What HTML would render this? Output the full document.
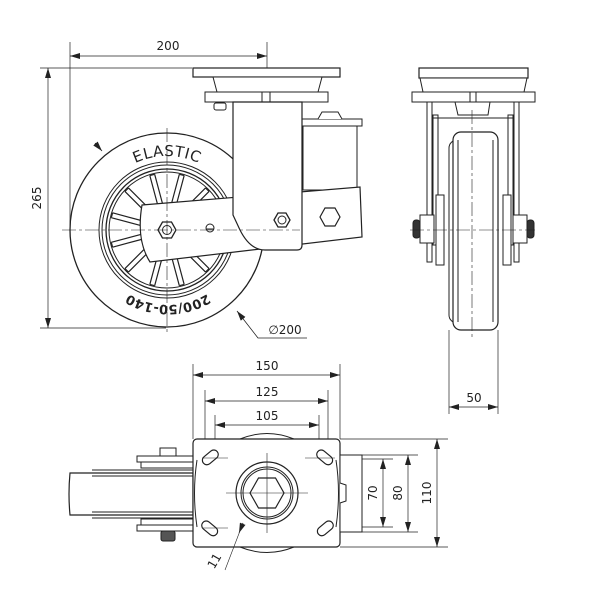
<!DOCTYPE html>
<html><head><meta charset="utf-8"><style>
html,body{margin:0;padding:0;background:#fff}
svg{display:block}
text{font-family:"DejaVu Sans","Liberation Sans",sans-serif;fill:#222}
</style></head><body>
<svg width="600" height="600" viewBox="0 0 600 600" xmlns="http://www.w3.org/2000/svg">
<defs>
<marker id="a" markerWidth="10" markerHeight="6" refX="10" refY="3" orient="auto-start-reverse" markerUnits="userSpaceOnUse"><path d="M0,0 L10,3 L0,6 z" fill="#222"/></marker>
<path id="arcTop" d="M93,230 A74,74 0 0 1 241,230"/>
<path id="arcBot" d="M243,230 A75,75 0 0 1 93,230"/>
</defs>
<g fill="none" stroke="#222" stroke-width="1">
<!-- SIDE VIEW dims -->
<line x1="70" y1="42" x2="70" y2="228" stroke-width="0.7"/>
<line x1="267" y1="42" x2="267" y2="100" stroke-width="0.7"/>
<line x1="70" y1="56" x2="267" y2="56" stroke-width="0.7" marker-start="url(#a)" marker-end="url(#a)"/>
<line x1="40" y1="68" x2="192" y2="68" stroke-width="0.7"/>
<line x1="40" y1="328" x2="166" y2="328" stroke-width="0.7"/>
<line x1="48" y1="68" x2="48" y2="328" stroke-width="0.7" marker-start="url(#a)" marker-end="url(#a)"/>
<!-- wheel -->
<circle cx="167" cy="230" r="97" fill="#fff" stroke-width="1.3"/>
<circle cx="167" cy="230" r="68"/>
<circle cx="167" cy="230" r="65"/>
<circle cx="167" cy="230" r="61" stroke-width="1.3"/>
<circle cx="167" cy="230" r="58"/>
<g stroke-width="1.2">
<g id="sp" transform="rotate(15 167 230)"><path d="M164.5,173 L164.5,208 M169.5,173 L169.5,208 M164.5,173 L169.5,173"/></g>
<use href="#sp" transform="rotate(30 167 230)"/>
<use href="#sp" transform="rotate(60 167 230)"/>
<use href="#sp" transform="rotate(90 167 230)"/>
<use href="#sp" transform="rotate(120 167 230)"/>
<use href="#sp" transform="rotate(150 167 230)"/>
<use href="#sp" transform="rotate(180 167 230)"/>
<use href="#sp" transform="rotate(210 167 230)"/>
<use href="#sp" transform="rotate(240 167 230)"/>
<use href="#sp" transform="rotate(270 167 230)"/>
<use href="#sp" transform="rotate(300 167 230)"/>
<use href="#sp" transform="rotate(330 167 230)"/>
</g>
<!-- top plate & bearing -->
<rect x="193" y="68" width="147" height="9" fill="#fff" stroke-width="1.2"/>
<path d="M213,77 L322,77 L318,92 L217,92 Z" fill="#fff"/>
<rect x="205" y="92" width="123" height="10" fill="#fff"/>
<line x1="262" y1="92" x2="262" y2="102"/><line x1="270" y1="92" x2="270" y2="102"/>
<rect x="214" y="103" width="12" height="7" fill="#fff" rx="2"/>
<!-- spring housing -->
<rect x="303" y="126" width="54" height="64" fill="#fff"/>
<rect x="300" y="119" width="62" height="7" fill="#fff"/>
<path d="M318,119 L322,112 L338,112 L342,119" fill="#fff"/>
<!-- arm -->
<path d="M142,205 L360,187 L362,237 L150,262 Q136,240 142,205 Z" fill="#fff" stroke-width="1.2"/>
<!-- fork -->
<path d="M233,102 L302,102 L302,245 Q302,250 297,250 L265,250 Q250,250 240,230 L233,215 Z" fill="#fff" stroke-width="1.2"/>
<polygon points="274,220 278,213 286,213 290,220 286,227 278,227" fill="#fff" stroke-width="1.3"/>
<circle cx="282" cy="220" r="4"/>
<polygon points="320,217 325,208 335,208 340,217 335,226 325,226" fill="#fff" stroke-width="1.2"/>
<polygon points="158,230 162.5,222 171.5,222 176,230 171.5,238 162.5,238" fill="#fff" stroke-width="1.3"/>
<circle cx="167" cy="230" r="4.5"/>
<circle cx="210" cy="228" r="4" fill="#fff"/>
<line x1="206" y1="229" x2="214" y2="229"/>
<!-- center lines -->
<g stroke-width="0.6" stroke-dasharray="14,3,3,3">
<line x1="62" y1="230" x2="300" y2="230"/>
<line x1="167" y1="128" x2="167" y2="332"/>
</g>
<!-- leaders -->
<line x1="95" y1="143" x2="102" y2="151" stroke-width="0.8" marker-end="url(#a)"/>
<polyline points="307,338 258,338 237,311" stroke-width="0.8" marker-end="url(#a)"/>

<!-- FRONT VIEW -->
<rect x="419" y="68" width="109" height="10" fill="#fff" stroke-width="1.2"/>
<path d="M420,78 L527,78 L524,92 L423,92 Z" fill="#fff"/>
<rect x="412" y="92" width="123" height="10" fill="#fff"/>
<line x1="470" y1="92" x2="470" y2="102"/><line x1="476" y1="92" x2="476" y2="102"/>
<path d="M455,102 L490,102 L488,115 L458,115 Z" fill="#fff"/>
<rect x="427" y="102" width="5" height="160" fill="#fff"/>
<rect x="433" y="115" width="5" height="130" fill="#fff"/>
<rect x="514" y="102" width="5" height="160" fill="#fff"/>
<rect x="508" y="115" width="5" height="130" fill="#fff"/>
<line x1="433" y1="118" x2="513" y2="118"/>
<rect x="449" y="140" width="49" height="183" rx="8" fill="#fff"/>
<rect x="453" y="132" width="45" height="198" rx="8" fill="#fff" stroke-width="1.2"/>
<line x1="458" y1="140" x2="458" y2="322"/><line x1="493" y1="140" x2="493" y2="322"/>
<rect x="436" y="195" width="8" height="70" fill="#fff"/>
<rect x="503" y="195" width="8" height="70" fill="#fff"/>
<rect x="420" y="215" width="14" height="28" fill="#fff"/>
<rect x="513" y="215" width="14" height="28" fill="#fff"/>
<rect x="413" y="220" width="7" height="18" rx="3" fill="#333"/>
<rect x="527" y="220" width="7" height="18" rx="3" fill="#333"/>
<g stroke-width="0.6" stroke-dasharray="14,3,3,3">
<line x1="472" y1="110" x2="472" y2="340"/>
<line x1="410" y1="230" x2="535" y2="230"/>
</g>
<line x1="449" y1="330" x2="449" y2="414" stroke-width="0.7"/>
<line x1="498" y1="330" x2="498" y2="414" stroke-width="0.7"/>
<line x1="449" y1="407" x2="498" y2="407" stroke-width="0.7" marker-start="url(#a)" marker-end="url(#a)"/>

<!-- BOTTOM VIEW -->
<g stroke-width="0.7">
<line x1="193" y1="364" x2="193" y2="439"/><line x1="340" y1="364" x2="340" y2="439"/>
<line x1="193" y1="375" x2="340" y2="375" marker-start="url(#a)" marker-end="url(#a)"/>
<line x1="205" y1="390" x2="205" y2="458"/><line x1="328" y1="390" x2="328" y2="458"/>
<line x1="205" y1="401" x2="328" y2="401" marker-start="url(#a)" marker-end="url(#a)"/>
<line x1="215" y1="415" x2="215" y2="458"/><line x1="319" y1="415" x2="319" y2="458"/>
<line x1="215" y1="425" x2="319" y2="425" marker-start="url(#a)" marker-end="url(#a)"/>
<line x1="340" y1="439" x2="448" y2="439"/><line x1="340" y1="547" x2="448" y2="547"/>
<line x1="437" y1="439" x2="437" y2="547" marker-start="url(#a)" marker-end="url(#a)"/>
<line x1="362" y1="455" x2="418" y2="455"/><line x1="305" y1="532" x2="418" y2="532"/>
<line x1="408" y1="455" x2="408" y2="532" marker-start="url(#a)" marker-end="url(#a)"/>
<line x1="362" y1="459" x2="393" y2="459"/><line x1="362" y1="527" x2="393" y2="527"/>
<line x1="383" y1="459" x2="383" y2="527" marker-start="url(#a)" marker-end="url(#a)"/>
</g>
<!-- left wheel -->
<path d="M70,473 L193,473 L193,515 L70,515 Q68,494 70,473 Z" fill="#fff" stroke-width="1.2"/>
<line x1="92" y1="470" x2="193" y2="470"/><line x1="92" y1="518" x2="193" y2="518"/>
<line x1="92" y1="476" x2="193" y2="476"/><line x1="92" y1="512" x2="193" y2="512"/>
<rect x="137" y="456" width="56" height="6" fill="#fff"/>
<rect x="137" y="525" width="56" height="6" fill="#fff"/>
<rect x="141" y="462" width="52" height="6" fill="#fff"/>
<rect x="141" y="519" width="52" height="6" fill="#fff"/>
<rect x="160" y="448" width="16" height="8" fill="#fff"/>
<rect x="161" y="531" width="14" height="10" rx="2" fill="#555"/>
<!-- plate -->
<path d="M240,439 Q267,428 294,439" fill="#fff"/>
<path d="M240,547 Q267,558 294,547" fill="#fff"/>
<rect x="193" y="439" width="147" height="108" rx="4" fill="#fff" stroke-width="1.2"/>
<path d="M197,460 Q192,493 197,527 M336,460 Q341,493 336,527" />
<rect x="340" y="455" width="22" height="77" fill="#fff"/>
<path d="M340,483 L346,485 L346,501 L340,503" fill="#fff"/>
<g fill="#fff" stroke-width="1.2">
<rect x="201" y="453" width="18" height="9" rx="4.5" transform="rotate(-40 210 457)"/>
<rect x="316" y="453" width="18" height="9" rx="4.5" transform="rotate(40 325 457)"/>
<rect x="201" y="524" width="18" height="9" rx="4.5" transform="rotate(40 210 528)"/>
<rect x="316" y="524" width="18" height="9" rx="4.5" transform="rotate(-40 325 528)"/>
</g>
<circle cx="267" cy="493" r="31" fill="#fff" stroke-width="1.2"/>
<circle cx="267" cy="493" r="26"/>
<circle cx="267" cy="493" r="24"/>
<polygon points="250,493 258.5,478 275.5,478 284,493 275.5,508 258.5,508" fill="#fff" stroke-width="1.2"/>
<g stroke-width="0.6">
<line x1="226" y1="493" x2="308" y2="493"/>
<line x1="267" y1="453" x2="267" y2="533"/>
<line x1="202" y1="458" x2="228" y2="458"/><line x1="305" y1="458" x2="335" y2="458"/>
<line x1="202" y1="528" x2="228" y2="528"/>
<line x1="225" y1="570" x2="243" y2="523"/>
</g>
<line x1="243" y1="523" x2="239" y2="533" stroke-width="0.7" marker-end="url(#a)"/>
</g>
<!-- text -->
<text x="168" y="50" font-size="12" text-anchor="middle">200</text>
<text x="0" y="0" font-size="12" text-anchor="middle" transform="translate(41,198) rotate(-90)">265</text>
<text font-size="15" letter-spacing="0.5"><textPath href="#arcTop" startOffset="50%" text-anchor="middle">ELASTIC</textPath></text>
<text font-size="13" font-weight="bold"><textPath href="#arcBot" startOffset="50%" text-anchor="middle">200/50-140</textPath></text>
<text x="285" y="334" font-size="12" text-anchor="middle">∅200</text>
<text x="474" y="402" font-size="12" text-anchor="middle">50</text>
<text x="267" y="370" font-size="12" text-anchor="middle">150</text>
<text x="267" y="396" font-size="12" text-anchor="middle">125</text>
<text x="267" y="420" font-size="12" text-anchor="middle">105</text>
<text transform="translate(377,493) rotate(-90)" font-size="12" text-anchor="middle">70</text>
<text transform="translate(402,493) rotate(-90)" font-size="12" text-anchor="middle">80</text>
<text transform="translate(431,493) rotate(-90)" font-size="12" text-anchor="middle">110</text>
<text transform="translate(218,563) rotate(-60)" font-size="12" text-anchor="middle">11</text>
</svg>
</body></html>
